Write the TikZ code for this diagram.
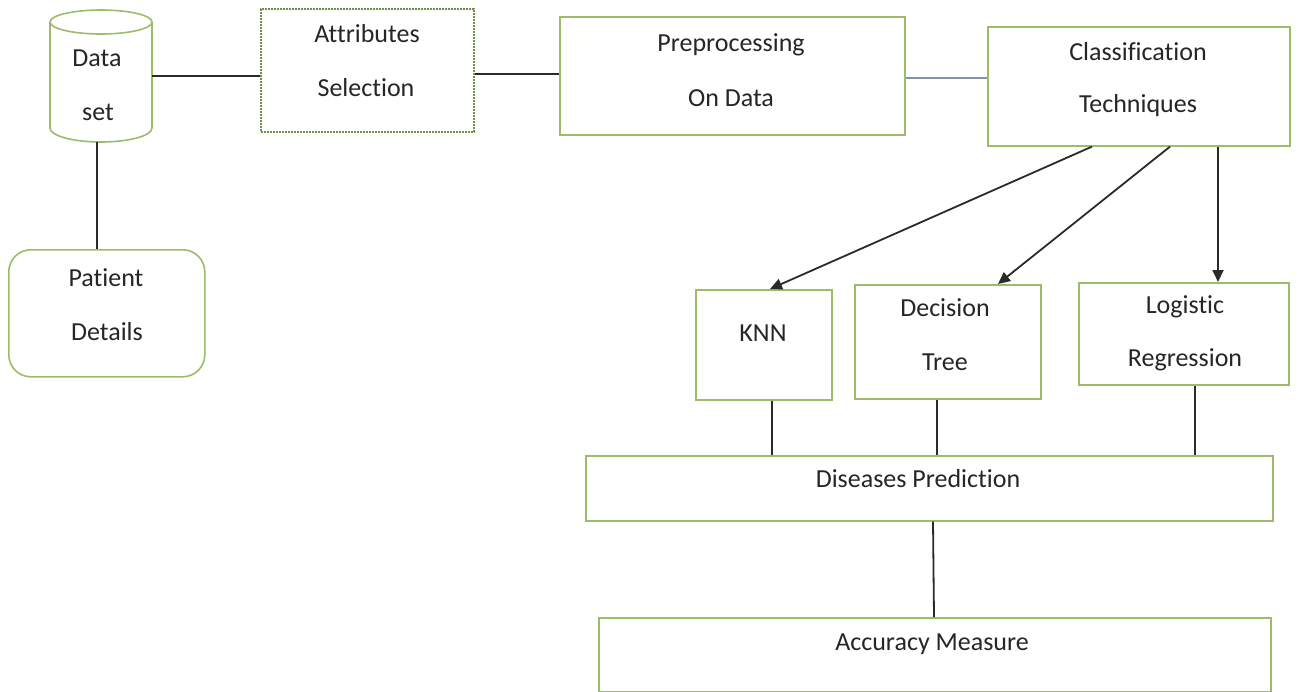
\documentclass[tikz,border=0pt]{standalone}
\usepackage{fontspec}
\setmainfont[Ligatures=NoCommon]{Carlito}
\usetikzlibrary{arrows.meta,shapes.geometric}
\definecolor{boxgreen}{HTML}{9DBB6B}
\definecolor{dotgreen}{HTML}{6E8F4A}
\definecolor{linegray}{HTML}{2A2A2A}
\definecolor{lineblue}{HTML}{7F93AD}
\begin{document}
\begin{tikzpicture}[x=1pt,y=-1pt,
  box/.style={draw=boxgreen,line width=1.6pt,fill=white},
  lbl/.style={font=\fontsize{26}{30}\selectfont,text=black!85,inner sep=0pt},
  conn/.style={draw=linegray,line width=1.8pt},
  arr/.style={conn,-{Triangle[length=12pt,width=11pt]}}]
\useasboundingbox (0,0) rectangle (1298,691);
% cylinder
\draw[box] (50,22) -- (50,128) arc[start angle=180,end angle=0,x radius=51,y radius=14] -- (152,22);
\draw[box] (101,22) ellipse[x radius=51,y radius=12];
\node[lbl] (ds1) at (97,58) {Data};
\node[lbl] (ds2) at (98,112) {set};
\coordinate (dsR) at (152,76);
\coordinate (dsB) at (97,142);
% attributes selection
\node[draw=dotgreen,dash pattern=on 1.6pt off 1.4pt,line width=2pt,fill=white,minimum width=213pt,minimum height=123pt,anchor=north west] (attr) at (260,8) {};
\node[lbl] at (367,34) {Attributes};
\node[lbl] at (366,88) {Selection};
% preprocessing
\node[box,minimum width=345pt,minimum height=118pt,anchor=north west] (pre) at (559,16) {};
\node[lbl] at (731,45) {Preprocessing};
\node[lbl] at (731,98) {On Data};
% classification
\node[box,minimum width=302pt,minimum height=119pt,anchor=north west] (cls) at (987,26) {};
\node[lbl] at (1138,52) {Classification};
\node[lbl] at (1138,106) {Techniques};
% patient details
\node[box,rounded corners=22pt,minimum width=196pt,minimum height=127pt,anchor=north west] (pat) at (8,249) {};
\node[lbl] at (106,278) {Patient};
\node[lbl] at (107,332) {Details};
% KNN
\node[box,minimum width=136pt,minimum height=110pt,anchor=north west] (knn) at (695,289) {};
\node[lbl] at (763,333) {KNN};
% decision tree
\node[box,minimum width=186pt,minimum height=114pt,anchor=north west] (dt) at (854,284) {};
\node[lbl] at (945,308) {Decision};
\node[lbl] at (945,362) {Tree};
% logistic regression
\node[box,minimum width=210pt,minimum height=102pt,anchor=north west] (lr) at (1078,282) {};
\node[lbl] at (1185,307) {Logistic};
\node[lbl] at (1185,360) {Regression};
% diseases prediction
\node[box,minimum width=687pt,minimum height=65pt,anchor=north west] (dp) at (585,455) {};
\node[lbl] at (918,479) {Diseases Prediction};
% accuracy measure
\node[box,minimum width=672pt,minimum height=74pt,anchor=north west] (am) at (598,617) {};
\node[lbl] at (932,644) {Accuracy Measure};
% connectors
\draw[conn] (dsR) -- (attr.west |- dsR);
\draw[conn] (attr.east |- 0,74) -- (pre.west |- 0,74);
\draw[draw=lineblue,line width=1.8pt] (pre.east |- 0,78) -- (cls.west |- 0,78);
\draw[conn] (dsB) -- (pat.north -| dsB);
\draw[arr] (cls.south -| 1092,0) -- (knn.north -| 770,0);
\draw[arr] (cls.south -| 1170,0) -- (dt.north -| 998,0);
\draw[arr] (cls.south -| 1218,0) -- (lr.north -| 1218,0);
\draw[conn] (knn.south -| 772,0) -- (dp.north -| 772,0);
\draw[conn] (dt.south -| 937,0) -- (dp.north -| 937,0);
\draw[conn] (lr.south -| 1195,0) -- (dp.north -| 1195,0);
\draw[conn] (dp.south -| 933,0) -- (am.north -| 934,0);
\end{tikzpicture}
\end{document}
